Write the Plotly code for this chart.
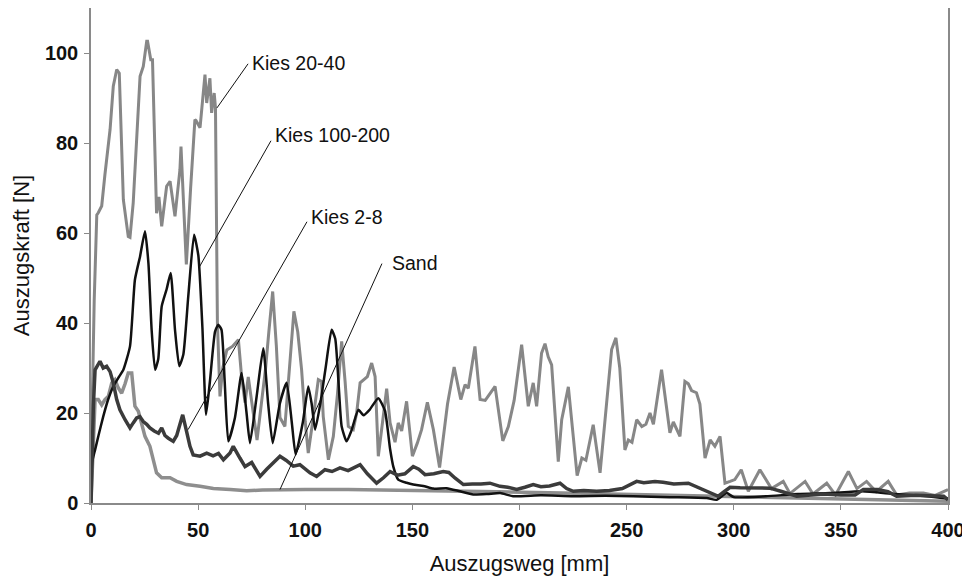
import plotly.graph_objects as go

# Kies 20-40
kies2040_x = [0, 0.5, 1.5, 2.7, 3.4, 5, 6.5, 8.9, 10.4, 12, 13.2, 15.1, 17.4, 18.2, 19.7, 22.9, 24.4, 26, 26.4, 27.9,
              28.7, 30.6, 31.7, 33, 35.3, 36.9, 39.2, 41.5, 42, 44.5, 46.5, 48.5, 49, 50.9, 53.2, 54, 55.5, 56.3, 57.5,
              58.1, 59, 60.2, 61.5, 63.4, 66, 68.8, 70.3, 71.9, 73.4, 75.7, 77.5, 79.5, 81.5, 83, 84.8, 86.5, 88.2,
              90.5, 92.5, 94.7, 96.5, 98.3, 100, 101.4, 103.8, 106.1, 107.6, 108.4, 110.8, 113.1, 115, 117, 118.6,
              120.1, 122.4, 124, 125.6, 127.2, 129, 131, 132.6, 134.1, 136, 138, 139.6, 141.9, 143.4, 145, 147.3, 150,
              152.3, 154.3, 157, 159.8, 162.7, 166.4, 169.5, 172.6, 174.6, 176.1, 179.2, 181.6, 184, 186.5, 188.6,
              192.2, 194.8, 197.5, 201, 204.1, 206.4, 208, 210.3, 211.9, 213.4, 215, 218.1, 219.7, 222.8, 226.9,
              229.1, 231, 234.4, 237.6, 240.7, 243, 245, 246.8, 249.2, 250.8, 252.5, 254.7, 257.1, 259, 260.9, 262.5,
              266.3, 268.6, 270.2, 271.8, 274.9, 277.2, 278.8, 280.3, 282.6, 284.2, 286.6, 289, 291.2, 293.6, 295.9,
              298.3, 300.5, 303.5, 306.8, 312.2, 317.6, 323.1, 326.2, 333.3, 337, 343.4, 347.5, 353.5, 357.5, 362,
              366.5, 372.1, 376, 382, 388.5, 394, 400]
kies2040_y = [0, 20, 45, 64, 64.5, 66, 73, 83, 92.6, 96.3, 95.5, 67.4, 59.2, 59, 66.7, 94.8, 97, 102.6, 102.6, 98.5,
              98.5, 64.4, 68, 61.5, 70.4, 71.5, 63.7, 74, 79.2, 53, 70, 85.2, 85, 83.4, 95.2, 88.9, 94.4, 86.7, 91.1,
              87.8, 40, 23.7, 30, 34, 34.8, 36.3, 28, 22.3, 28, 20, 14, 22, 30, 38, 47, 35, 19,
              17, 30, 42.6, 38, 29.6, 18, 11.1, 19.2, 27.4, 27, 19.2, 9.6, 14.8, 24, 35.9, 27,
              17, 16.3, 20, 26.7, 27.4, 28.1, 31.1, 28.1, 10.4, 18, 25.4, 17.8, 13.5, 17.8, 16, 22.6, 10.4,
              13.3, 16.3, 22.4, 16.3, 7.9, 22, 30.2, 23, 26.3, 25.5, 34.8, 23, 22.8, 24.5, 25.9,
              13.8, 17, 22.8, 35.2, 21.5, 26.7, 21.5, 33.3, 35.4, 32.5, 30.7, 9.2, 18.5, 25.8, 6.1,
              10, 9.5, 17.4, 6.7, 23, 34.1, 36.7, 30, 11.8, 14, 13.5, 18.5, 17, 17.5, 20, 17.5,
              29.6, 22, 15.6, 18, 14.8, 27, 26.5, 25, 24.5, 22, 10, 14, 12.6, 14.8, 4.4,
              4.8, 5.2, 7.4, 2.6, 7.4, 3.2, 4.8, 2.1, 4.8, 2, 4.4, 1.8, 7, 3.2, 4.8,
              2.5, 4.8, 1.8, 2.2, 2.2, 1.7, 3]

# Kies 100-200
kies100_x = [0, 0.5, 1.9, 3.5, 5.7, 8, 10.4, 13, 15.1, 18.2, 20.5, 22.9, 25.2, 26.8, 28.3, 29.9, 31.4, 33, 35.3, 37.2,
             39.2, 41.2, 43.1, 45.4, 48.1, 50.1, 52, 53.7, 55.5, 57.9, 59.4, 60.9, 62.4, 64.1, 67.2, 70.3, 72.6,
             74.2, 77.4, 80.4, 82.7, 84.8, 88.1, 91.3, 93.7, 95.5, 98.9, 101.4, 103, 104.6, 107, 109.5, 112.3, 114,
             115.5, 117, 119.3, 121.5, 124.8, 127.2, 130, 134.1, 137.2, 139.6, 141.1, 143.4, 147.3, 150.4, 155.1,
             159.8, 166, 172.2, 178.4, 185, 191, 197, 210, 225, 240, 253, 270, 287.4, 292, 296.7, 300, 315, 330,
             345, 360, 375, 390, 400]
kies100_y = [0, 9, 11.8, 15, 19.2, 23, 25.9, 28, 29.6, 34.8, 49.6, 54.8, 60.4, 53.3, 38.5, 29.6, 32, 43.7, 47.5, 51.1,
             38.5, 30.4, 33, 45.9, 59.6, 55, 39, 19.6, 27, 38.1, 39.6, 38.5, 27, 13.7, 19, 28.9, 20,
             13.3, 24, 34.4, 22, 13.3, 22, 26.7, 18, 10.8, 18, 25.9, 22, 16.3, 22, 30, 38.5, 36.5,
             27, 17, 13.7, 16, 20.7, 19.5, 20.7, 23.3, 20.5, 12, 8.1, 5.2, 4.5, 4.1, 3.8,
             3.2, 3.3, 2.6, 1.9, 2, 2.2, 1.5, 1.7, 1.5, 1.6, 1.5, 1.3, 1.1, 0.7, 2.2, 1.3, 1.5, 2,
             2.2, 2.6, 2, 1.5, 1]

# Kies 2-8
kies28_x = [0, 0.3, 1.1, 1.9, 3.4, 4.2, 5.7, 7.3, 8.9, 10.4, 12, 13.5, 15.9, 18.2, 19.7, 21.3, 22.8, 24.4, 26, 27.5,
            29.5, 31.5, 33, 34.5, 36.1, 38.4, 40, 41.5, 42.8, 44.6, 46.2, 47.7, 50.9, 54, 57, 59.5, 61.8, 64.9, 66.4,
            69.5, 71.9, 75, 78.9, 82, 85.1, 88.2, 91, 94.4, 97.5, 100, 102.2, 105.3, 109.2, 112.5, 116.2, 120, 125.6,
            129, 133.3, 136.5, 139.6, 143, 146.5, 150.4, 153, 155.9, 160, 164.4, 167, 170, 173.8, 178, 182, 186.2,
            190.9, 194.5, 198.7, 202.5, 206.4, 210, 214, 218.9, 222, 225.1, 230, 236, 242, 248, 254.7, 258, 263.2,
            267, 272, 278.8, 283, 288.9, 292.8, 295.5, 298.3, 303, 310, 316.9, 322, 329.4, 336, 342, 350, 356.6,
            360.5, 367, 372, 376, 385, 394.7, 398, 400]
kies28_y = [0, 6.7, 21.5, 29.6, 31.1, 31.5, 30, 30.4, 29.2, 26.7, 23, 20.7, 18.5, 16.7, 17.8, 18.9, 19.2, 18.1, 17.5,
            16.7, 16, 15.5, 16.7, 15, 14.4, 13.7, 15, 17.8, 19.6, 15.9, 12.6, 10.7, 10.4, 11.1, 10.5, 11, 9.6, 11.1,
            12.6, 10, 8.1, 9, 5.9, 7.5, 8.9, 10.4, 9.5, 8.2, 8.5, 7.5, 6.7, 5.9, 7.4, 7, 7.8, 7.2, 8.5,
            6.5, 4.4, 5.6, 7, 6.2, 6.5, 8.1, 7.5, 6.3, 6.5, 7, 6.8, 5.5, 4.1, 4.2, 4.2, 4.4,
            3.7, 3.5, 3, 3.5, 4.1, 3.6, 3.8, 4.4, 3.2, 2.6, 2.8, 2.6, 2.8, 3.2, 4.8, 4.5, 4.8,
            4.6, 4.2, 4.4, 3.5, 2.2, 1.5, 2.5, 3.5, 3.4, 3.3, 3.3, 2.6, 1.5, 1.8, 2, 1.8, 1.8,
            3, 3, 2.5, 1.5, 1.7, 1.5, 1.5, 0.7]

# Sand
sand_x = [0, 0.8, 1.9, 3.4, 5, 6.5, 8.1, 9.7, 11.2, 12.7, 14.3, 15.9, 17.4, 19, 20.5, 22.1, 23.6, 25.2, 27.5, 29.1,
          30.6, 33, 36.9, 40, 44.6, 50.9, 57.1, 65, 72.7, 80, 88.2, 100, 120, 140, 166, 190, 220, 250, 280, 310,
          340, 370, 400]
sand_y = [0, 12, 23, 23, 21.8, 23, 23.7, 26.7, 27.4, 25.6, 24.4, 26.5, 28.9, 28.9, 21.5, 20.4, 17.8, 14.8, 12.6,
          9.6, 6.7, 5.6, 5.6, 4.8, 4.1, 3.7, 3.2, 3, 2.7, 2.9, 3, 3, 3, 2.9, 2.8, 2.5, 2.2, 1.9, 1.5, 1.2,
          0.9, 0.6, 0.4]

# labels: text position and the point on the curve the leader line goes to
label_names = ['Kies 20-40', 'Kies 100-200', 'Kies 2-8', 'Sand']
label_x = [75.1, 85.9, 102.7, 140.5]
label_y = [97.8, 81.8, 63.6, 53.4]
leader_x0 = [73.3, 84.0, 100.8, 135.8]
leader_y0 = [97.6, 80.5, 62.5, 53.2]
leader_x1 = [58.8, 50.4, 45.3, 88.2]
leader_y1 = [87.8, 52.3, 16.3, 3.0]

FONT = 'Liberation Sans, Arial'

fig = go.Figure()
fig.add_trace(go.Scatter(x=kies2040_x, y=kies2040_y, mode='lines', name='Kies 20-40',
                         line=dict(color='#878787', width=3)))
fig.add_trace(go.Scatter(x=sand_x, y=sand_y, mode='lines', name='Sand',
                         line=dict(color='#8e8e8e', width=3.5)))
fig.add_trace(go.Scatter(x=kies100_x, y=kies100_y, mode='lines', name='Kies 100-200',
                         line=dict(color='#111111', width=2.5, shape='spline', smoothing=0.5)))
fig.add_trace(go.Scatter(x=kies28_x, y=kies28_y, mode='lines', name='Kies 2-8',
                         line=dict(color='#3b3b3b', width=3.5)))

for i in range(len(label_names)):
    fig.add_shape(type='line', xref='x', yref='y', x0=leader_x0[i], y0=leader_y0[i],
                  x1=leader_x1[i], y1=leader_y1[i], line=dict(color='#111111', width=1))
    fig.add_annotation(x=label_x[i], y=label_y[i], text=label_names[i], showarrow=False,
                       xanchor='left', yanchor='middle', xshift=-2,
                       font=dict(family=FONT, size=19.5, color='#111111'))

# page body has an 8px default margin, so margins are set 8px smaller on top/left
fig.update_layout(
    width=970, height=583,
    margin=dict(l=83, r=30, t=0, b=88, autoexpand=False),
    plot_bgcolor='white', paper_bgcolor='white',
    showlegend=False,
    font=dict(family=FONT, color='#111111'))

fig.update_xaxes(range=[0, 400], dtick=50, showgrid=False, zeroline=False,
                 showline=True, linecolor='#8a8a8a', linewidth=1.5, mirror=True,
                 ticks='outside', ticklen=5, tickcolor='#8a8a8a', ticklabelstandoff=3,
                 tickfont=dict(size=20, family=FONT, weight='bold'),
                 title=dict(text='Auszugsweg [mm]', font=dict(size=22), standoff=16))
fig.update_yaxes(range=[0, 110], dtick=20, showgrid=False, zeroline=False,
                 showline=True, linecolor='#8a8a8a', linewidth=1.5, mirror=True,
                 ticks='outside', ticklen=5, tickcolor='#8a8a8a', ticklabelstandoff=2,
                 tickfont=dict(size=20, family=FONT, weight='bold'),
                 title=dict(text='Auszugskraft [N]', font=dict(size=22), standoff=9))

fig.write_html('out.html')
